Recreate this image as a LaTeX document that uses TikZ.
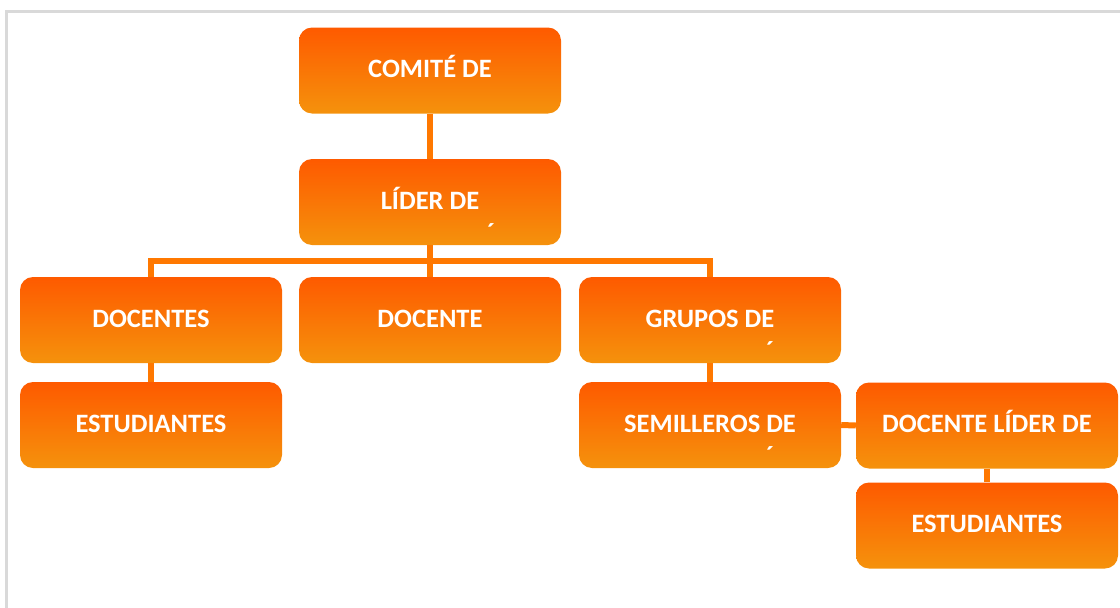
\documentclass[tikz,border=0pt]{standalone}
\usepackage{fontspec}
\setmainfont{Carlito}
\definecolor{boxtop}{RGB}{254,90,0}
\definecolor{boxbot}{RGB}{245,146,12}
\definecolor{linkc}{RGB}{255,120,0}
\definecolor{framec}{RGB}{217,217,217}
\begin{document}
\begin{tikzpicture}[x=1pt,y=-1pt,
  box/.style={rounded corners=13pt, top color=boxtop, bottom color=boxbot, draw=none,
    minimum width=262pt, minimum height=86pt, inner sep=0pt, text=white,
    font=\fontsize{26.5}{30}\selectfont\bfseries, text height=17pt, text depth=3pt},
  link/.style={draw=linkc, line width=6pt},
  accentmark/.style={text=white, font=\fontsize{26}{30}\selectfont\bfseries, inner sep=0pt, anchor=base},
  frameline/.style={draw=framec, line width=3pt}]
\useasboundingbox (0,0) rectangle (1120,608);
\draw[frameline] (6.5,608) -- (6.5,11.5) -- (1120,11.5);
% boxes
\node[box] (comite) at (430,70.5) {COMITÉ DE};
\node[box] (lider) at (430,202) {LÍDER DE};
\node[box] (docentes) at (151,320) {DOCENTES};
\node[box] (docente) at (430,320) {DOCENTE};
\node[box] (grupos) at (710,320) {GRUPOS DE};
\node[box] (estl) at (151,425) {ESTUDIANTES};
\node[box] (semilleros) at (710,425) {SEMILLEROS DE};
\node[box] (doclider) at (987,425.5) {DOCENTE LÍDER DE};
\node[box] (estr) at (987,525.5) {ESTUDIANTES};
% connectors
\coordinate (bar) at (430,261);
\draw[link] (comite.south) -- (lider.north);
\draw[link] (lider.south) -- (docente.north);
\draw[link] (docentes.north) |- (bar) -| (grupos.north);
\draw[link] (docentes.south) -- (estl.north);
\draw[link] (grupos.south) -- (semilleros.north);
\draw[link] (semilleros.east) -- (doclider.west);
\draw[link] (doclider.south) -- (estr.north);
% stray accents
\node[accentmark] (acc1) at ([xshift=61pt,yshift=-83pt]lider.north) {´};
\node[accentmark] (acc2) at ([xshift=60pt,yshift=-83pt]grupos.north) {´};
\node[accentmark] (acc3) at ([xshift=60pt,yshift=-83pt]semilleros.north) {´};
\end{tikzpicture}
\end{document}
